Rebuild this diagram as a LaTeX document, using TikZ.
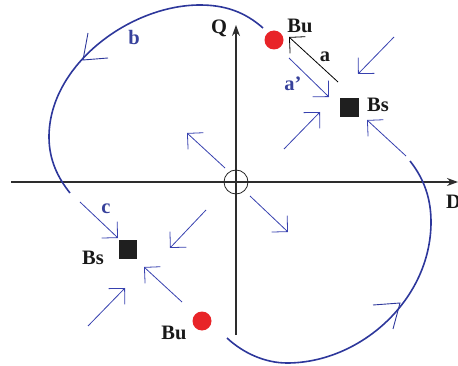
\documentclass[tikz,border=0pt]{standalone}
\usepackage{fontspec}
\setmainfont{Liberation Serif}
\usetikzlibrary{arrows.meta}
\definecolor{curveblue}{RGB}{45,55,155}
\definecolor{arrblue}{RGB}{55,65,175}
\definecolor{lblblue}{RGB}{55,65,155}
\definecolor{dotred}{RGB}{232,36,40}
\definecolor{axisgray}{RGB}{45,45,45}
\tikzset{
  lbl/.style={inner sep=0pt, font=\fontsize{20.5}{20.5}\selectfont\bfseries, text=black!90},
  bluelbl/.style={lbl, text=lblblue},
  flow/.style={draw=arrblue, line width=0.8pt, -{Straight Barb[angle=90:16pt]}},
  traj/.style={draw=curveblue, line width=1.6pt},
  tickmark/.style={draw=curveblue, line width=0.9pt},
  axis/.style={draw=axisgray, line width=1.1pt, -{Stealth[length=11pt,width=8pt]}},
  reddot/.style={circle, fill=dotred, minimum size=19pt, inner sep=0pt},
  saddlebox/.style={rectangle, fill=black!88, minimum size=18.5pt, inner sep=0pt}
}
\begin{document}
\begin{tikzpicture}[x=1pt,y=-1pt]
\useasboundingbox (0,0) rectangle (458,366);
% axes
\coordinate (xl) at (11,182);
\coordinate (xr) at (458,182);
\coordinate (yb) at (236,335);
\coordinate (yt) at (236,25);
\draw[axis] (xl) -- (xr);
\draw[axis] (yb) -- (yt);
\node[circle, draw=black!85, line width=0.8pt, minimum size=24pt, inner sep=0pt] (origin) at (236,182) {};
\node[lbl] (Q) at (219,28.5) {Q};
\node[lbl, anchor=west] (D) at (446,202) {D};
% trajectories
\draw[traj] (263,28) .. controls (245,12) and (225,5) .. (200,5)
  .. controls (130,5) and (49,65) .. (49,137)
  .. controls (49,160) and (58,178) .. (70,193);
\draw[tickmark] (88,33) -- (83,60) -- (108,58);
\draw[traj] (410,161) .. controls (425,180) and (431,200) .. (431,222)
  .. controls (431,300) and (360,363) .. (287,363)
  .. controls (265,363) and (243,353) .. (227,338);
\draw[tickmark] (373,305) -- (400,303) -- (393,329);
\node[bluelbl] (b) at (134,37) {b};
% equilibria
\node[reddot] (Bu1) at (274,40) {};
\node[lbl] (Bu1t) at (300,26) {Bu};
\node[saddlebox] (Bs1) at (349.5,107.5) {};
\node[lbl] (Bs1t) at (378,105) {Bs};
\node[reddot] (Bu2) at (202,321) {};
\node[lbl] (Bu2t) at (174,333) {Bu};
\node[saddlebox] (Bs2) at (128,249.5) {};
\node[lbl] (Bs2t) at (93,258) {Bs};
% flow arrows near top-right Bs
\coordinate (a1s) at (394,37);  \coordinate (a1e) at (358,74);
\coordinate (a2s) at (284,149); \coordinate (a2e) at (320,112);
\coordinate (a3s) at (406,156); \coordinate (a3e) at (367,120);
\coordinate (a4s) at (289,58);  \coordinate (a4e) at (329,97);
\coordinate (a5s) at (338,82);  \coordinate (a5e) at (289,37);
\draw[flow] (a1s) -- (a1e);
\draw[flow] (a2s) -- (a2e);
\draw[flow] (a3s) -- (a3e);
\draw[flow] (a4s) -- (a4e);
\draw[flow, draw=black] (a5s) -- (a5e);
\node[lbl] (alab) at (325,57) {a};
\node[bluelbl] (aplab) at (293,84) {a’};
% flow arrows near origin
\coordinate (o1s) at (225,168); \coordinate (o1e) at (187,133);
\coordinate (o2s) at (250,196); \coordinate (o2e) at (288,232);
\draw[flow] (o1s) -- (o1e);
\draw[flow] (o2s) -- (o2e);
% flow arrows near bottom-left Bs
\coordinate (b1s) at (80,202);  \coordinate (b1e) at (118,238);
\coordinate (b2s) at (206,210); \coordinate (b2e) at (170,248);
\coordinate (b3s) at (88,326);  \coordinate (b3e) at (125,288);
\coordinate (b4s) at (182,302); \coordinate (b4e) at (144,267);
\draw[flow] (b1s) -- (b1e);
\draw[flow] (b2s) -- (b2e);
\draw[flow] (b3s) -- (b3e);
\draw[flow] (b4s) -- (b4e);
\node[bluelbl] (clab) at (106,209) {c};
\end{tikzpicture}
\end{document}
